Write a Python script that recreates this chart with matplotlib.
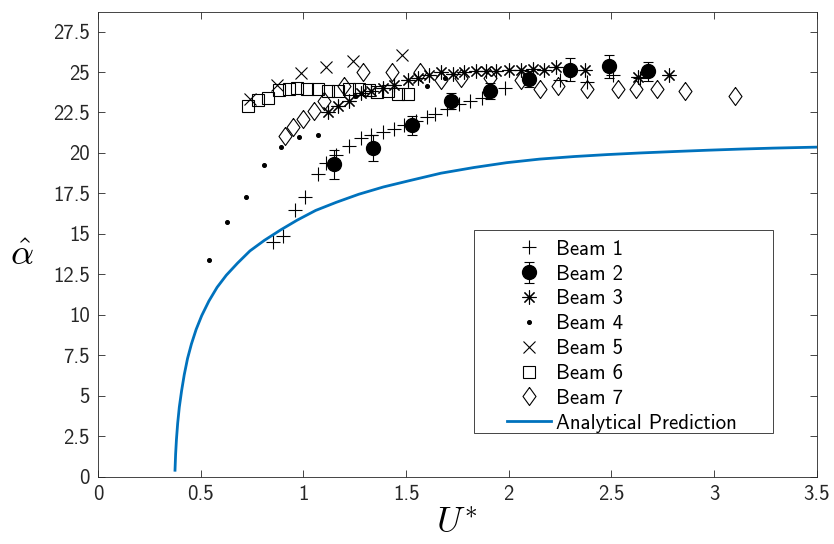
import matplotlib
matplotlib.use("Agg")
from matplotlib import pyplot as plt
from matplotlib.patches import Rectangle
from matplotlib.ticker import FormatStrFormatter

plt.rcParams['font.family'] = 'cmss10'
plt.rcParams['mathtext.fontset'] = 'cm'
plt.rcParams['axes.unicode_minus'] = False

# measured reduced velocity U* and non-dimensional amplitude alpha-hat per beam
beam1_u = [0.85, 0.90, 0.96, 1.01, 1.07, 1.11, 1.16, 1.22, 1.28, 1.33, 1.39, 1.44,
           1.49, 1.55, 1.60, 1.64, 1.70, 1.76, 1.81, 1.87, 1.98, 2.25, 2.38, 2.51, 2.64]
beam1_a = [14.5, 14.9, 16.5, 17.3, 18.7, 19.4, 19.9, 20.4, 20.9, 21.1, 21.3, 21.5,
           21.7, 22.0, 22.2, 22.4, 22.7, 23.0, 23.2, 23.4, 24.0, 24.5, 24.4, 24.8, 24.6]

beam2_u = [1.15, 1.34, 1.53, 1.72, 1.91, 2.10, 2.30, 2.49, 2.68]
beam2_a = [19.3, 20.3, 21.7, 23.2, 23.85, 24.55, 25.15, 25.35, 25.05]
beam2_err = [0.9, 0.8, 0.6, 0.5, 0.5, 0.5, 0.7, 0.7, 0.6]

beam3_u = [1.12, 1.17, 1.22, 1.28, 1.33, 1.39, 1.44, 1.51, 1.56, 1.61, 1.67, 1.73,
           1.78, 1.84, 1.89, 1.94, 2.00, 2.06, 2.12, 2.17, 2.23, 2.37, 2.63, 2.78]
beam3_a = [22.5, 22.9, 23.2, 23.7, 23.8, 24.0, 24.2, 24.5, 24.6, 24.8, 25.0, 24.9,
           25.0, 25.05, 25.05, 25.05, 25.1, 25.15, 25.2, 25.15, 25.3, 25.1, 24.7, 24.8]

beam4_u = [0.54, 0.63, 0.72, 0.81, 0.89, 0.98, 1.07, 1.25, 1.60, 1.69]
beam4_a = [13.4, 15.75, 17.25, 19.25, 20.35, 21.0, 21.1, 23.5, 24.15, 24.6]

beam5_u = [0.74, 0.87, 0.99, 1.11, 1.24, 1.48]
beam5_a = [23.35, 24.2, 24.95, 25.3, 25.7, 26.05]

beam6_u = [0.73, 0.78, 0.83, 0.88, 0.93, 0.97, 1.02, 1.07, 1.12, 1.17, 1.22, 1.27,
           1.32, 1.36, 1.41, 1.46, 1.51]
beam6_a = [22.9, 23.3, 23.4, 23.9, 23.95, 24.0, 23.95, 23.95, 23.85, 23.8, 23.95, 23.95,
           23.9, 23.75, 23.8, 23.65, 23.65]

beam7_u = [0.91, 0.95, 1.00, 1.05, 1.10, 1.20, 1.29, 1.43, 1.57, 1.67, 1.77, 1.91,
           2.06, 2.15, 2.24, 2.38, 2.53, 2.62, 2.72, 2.86, 3.10]
beam7_a = [21.05, 21.6, 22.1, 22.6, 23.2, 24.15, 25.0, 25.0, 25.0, 24.5, 24.65, 24.6,
           24.5, 23.95, 24.15, 23.95, 23.95, 23.95, 23.95, 23.85, 23.5]

# analytical prediction
pred_u = [0.375, 0.378, 0.382, 0.388, 0.396, 0.407, 0.42, 0.436, 0.455, 0.478,
          0.505, 0.54, 0.58, 0.625, 0.68, 0.74, 0.81, 0.89, 0.97, 1.06, 1.16,
          1.27, 1.39, 1.52, 1.67, 1.83, 1.99, 2.15, 2.32, 2.48, 2.64, 2.81, 2.97,
          3.13, 3.29, 3.5]
pred_a = [0.4, 1.4, 2.3, 3.3, 4.3, 5.3, 6.3, 7.3, 8.2, 9.1,
          9.95, 10.85, 11.7, 12.45, 13.2, 13.95, 14.6, 15.25, 15.85, 16.45, 16.95,
          17.45, 17.9, 18.3, 18.75, 19.1, 19.4, 19.62, 19.78, 19.9, 20.0, 20.09, 20.17,
          20.24, 20.3, 20.36]

# MATLAB-style diamond (taller than wide) and asterisk
diamond = [(0, 1), (0.72, 0), (0, -1), (-0.72, 0), (0, 1)]
asterisk = (8, 2, 0)

fig = plt.figure(figsize=(8.34, 5.44), dpi=100)
ax = fig.add_axes([0.1175, 0.1237, 0.8618, 0.854])

mk = dict(linestyle='none', color='k', markeredgewidth=0.8)
h1, = ax.plot(beam1_u, beam1_a, marker='+', markersize=10, label='Beam 1', **mk)
h2 = ax.errorbar(beam2_u, beam2_a, yerr=beam2_err, fmt='o', color='k', markersize=10,
                 ecolor='k', elinewidth=0.8, capsize=3.5, capthick=0.8, label='Beam 2')
h3, = ax.plot(beam3_u, beam3_a, marker=asterisk, markersize=10, label='Beam 3', **mk)
h4, = ax.plot(beam4_u, beam4_a, marker='o', markersize=2.8, label='Beam 4', **mk)
h5, = ax.plot(beam5_u, beam5_a, marker='x', markersize=8, label='Beam 5', **mk)
h6, = ax.plot(beam6_u, beam6_a, marker='s', markersize=8, markerfacecolor='none',
              label='Beam 6', **mk)
h7, = ax.plot(beam7_u, beam7_a, marker=diamond, markersize=13, markerfacecolor='none',
              label='Beam 7', **mk)
h8, = ax.plot(pred_u, pred_a, color='#0072BD', linewidth=2, label='Analytical Prediction')

ax.set_xlim(0, 3.5)
ax.set_ylim(0, 28.7)
ax.set_xticks([0, 0.5, 1, 1.5, 2, 2.5, 3, 3.5])
ax.set_yticks([0, 2.5, 5, 7.5, 10, 12.5, 15, 17.5, 20, 22.5, 25, 27.5])
ax.xaxis.set_major_formatter(FormatStrFormatter('%g'))
ax.yaxis.set_major_formatter(FormatStrFormatter('%g'))
ax.tick_params(direction='in', top=True, right=True, length=5, width=0.6,
               labelsize=15, colors='#262626', pad=6)
for s in ax.spines.values():
    s.set_color('#262626')
    s.set_linewidth(0.6)

ax.set_xlabel(r'$U^{*}$', fontsize=26)
ax.xaxis.set_label_coords(0.5, -0.065)
ax.set_ylabel(r'$\hat{\alpha}$', fontsize=26, rotation=0, va='center')
ax.yaxis.set_label_coords(-0.106, 0.477)

handles = [h1, h2, h3, h4, h5, h6, h7, h8]
leg = ax.legend(handles, [h.get_label() for h in handles],
                loc='upper left', bbox_to_anchor=(0.5695, 0.51), frameon=False,
                fontsize=15, borderpad=0, borderaxespad=0, labelspacing=0.28,
                handlelength=2.1, handletextpad=0.25, numpoints=1)
ax.add_patch(Rectangle((0.5232, 0.0934), 0.9388 - 0.5232, 0.5309 - 0.0934,
                       transform=ax.transAxes, fill=False, edgecolor='#262626',
                       linewidth=0.6, zorder=5))

fig.savefig('out.png', dpi=100)
